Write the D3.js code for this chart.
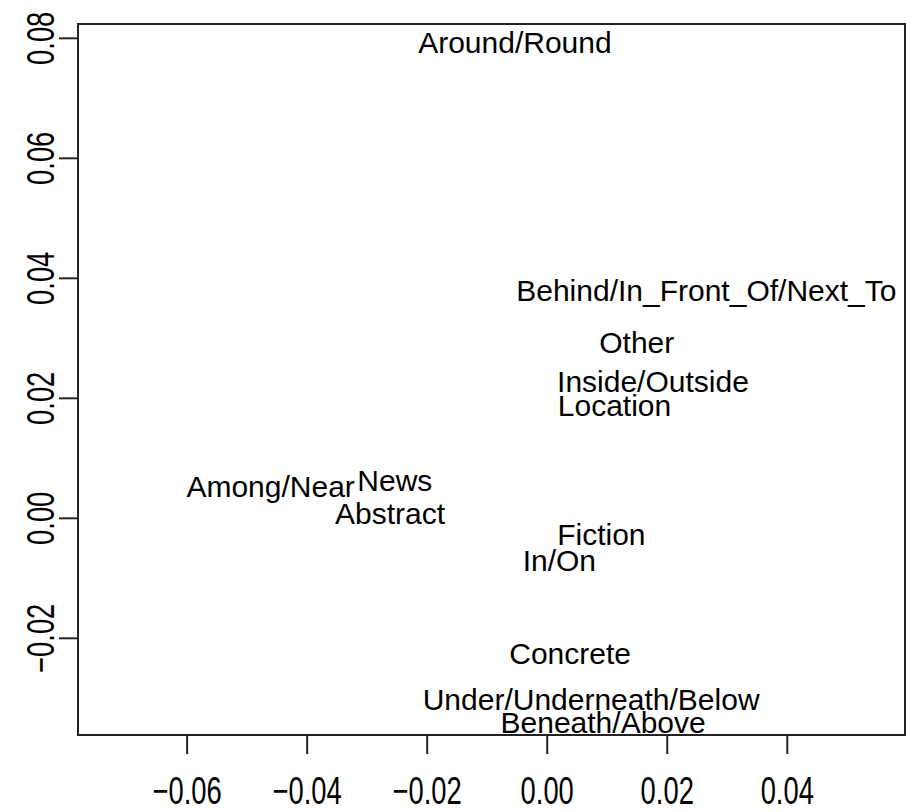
<!DOCTYPE html>
<html>
<head>
<meta charset="utf-8">
<script src="https://cdn.jsdelivr.net/npm/d3@7"></script>
<style>
  html, body { margin: 0; padding: 0; background: #ffffff; }
  svg { display: block; }
  text { font-family: "Liberation Sans", Arial, sans-serif; fill: #000; }
</style>
</head>
<body>
<svg id="chart" width="906" height="812"></svg>
<script>
// ---- data ----
const labels = ["Around/Round", "Behind/In_Front_Of/Next_To", "Other", "Inside/Outside", "Location",
  "Among/Near", "News", "Abstract", "Fiction", "In/On", "Concrete", "Under/Underneath/Below", "Beneath/Above"];
const xValues = [-0.0053, 0.0266, 0.0150, 0.0177, 0.0113, -0.0460, -0.0253, -0.0261, 0.0091, 0.0021, 0.0039, 0.0074, 0.0094];
const yValues = [0.0792, 0.0380, 0.0293, 0.0228, 0.0188, 0.0052, 0.0063, 0.0008, -0.0028, -0.0070, -0.0225, -0.0303, -0.0340];
const xTicks = [-0.06, -0.04, -0.02, 0.00, 0.02, 0.04];
const yTicks = [-0.02, 0.00, 0.02, 0.04, 0.06, 0.08];
const xDomain = [-0.0781, 0.0597];
const yDomain = [-0.0362, 0.0823];

// ---- layout ----
const svg = d3.select("#chart");
const pLeft = 78, pRight = 905, pTop = 24, pBottom = 735;
const x = d3.scaleLinear().domain(xDomain).range([pLeft, pRight]);
const y = d3.scaleLinear().domain(yDomain).range([pBottom, pTop]);
const fmt = d3.format(".2f");

svg.append("rect").attr("width", 906).attr("height", 812).attr("fill", "#ffffff");

svg.append("defs").append("clipPath").attr("id", "plotclip")
  .append("rect").attr("x", pLeft).attr("y", pTop).attr("width", pRight - pLeft).attr("height", pBottom - pTop);

// axes (ticks only, R style)
const xAxis = d3.axisBottom(x).tickValues(xTicks).tickSize(19).tickFormat(fmt);
const gx = svg.append("g").attr("transform", `translate(0,${pBottom})`).call(xAxis);
gx.select(".domain").attr("stroke", "none");
gx.selectAll(".tick line").attr("stroke", "#222").attr("stroke-width", 2);
gx.selectAll(".tick text")
  .attr("y", null).attr("dy", null)
  .attr("font-size", 38)
  .attr("text-anchor", "middle")
  .attr("transform", "translate(0,69) scale(0.72,1)")
  .attr("font-family", "Liberation Sans, Arial, sans-serif")
  .attr("fill", "#111");

const yAxis = d3.axisLeft(y).tickValues(yTicks).tickSize(19).tickFormat(fmt);
const gy = svg.append("g").attr("transform", `translate(${pLeft},0)`).call(yAxis);
gy.select(".domain").attr("stroke", "none");
gy.selectAll(".tick line").attr("stroke", "#222").attr("stroke-width", 2);
gy.selectAll(".tick text")
  .attr("x", null).attr("dy", null)
  .attr("font-size", 38)
  .attr("text-anchor", "middle")
  .attr("transform", "translate(-24,0) rotate(-90) scale(0.72,1)")
  .attr("font-family", "Liberation Sans, Arial, sans-serif")
  .attr("fill", "#111");

// box
svg.append("rect")
  .attr("x", pLeft).attr("y", pTop)
  .attr("width", pRight - pLeft).attr("height", pBottom - pTop)
  .attr("fill", "none").attr("stroke", "#222").attr("stroke-width", 2);

// labels
const pts = labels.map((d, i) => ({ label: d, x: xValues[i], y: yValues[i] }));
svg.append("g").attr("clip-path", "url(#plotclip)")
  .selectAll("text").data(pts).join("text")
  .attr("x", d => x(d.x))
  .attr("y", d => y(d.y))
  .attr("dy", "0.36em")
  .attr("text-anchor", "middle")
  .attr("font-size", 30)
  .text(d => d.label);
</script>
</body>
</html>
